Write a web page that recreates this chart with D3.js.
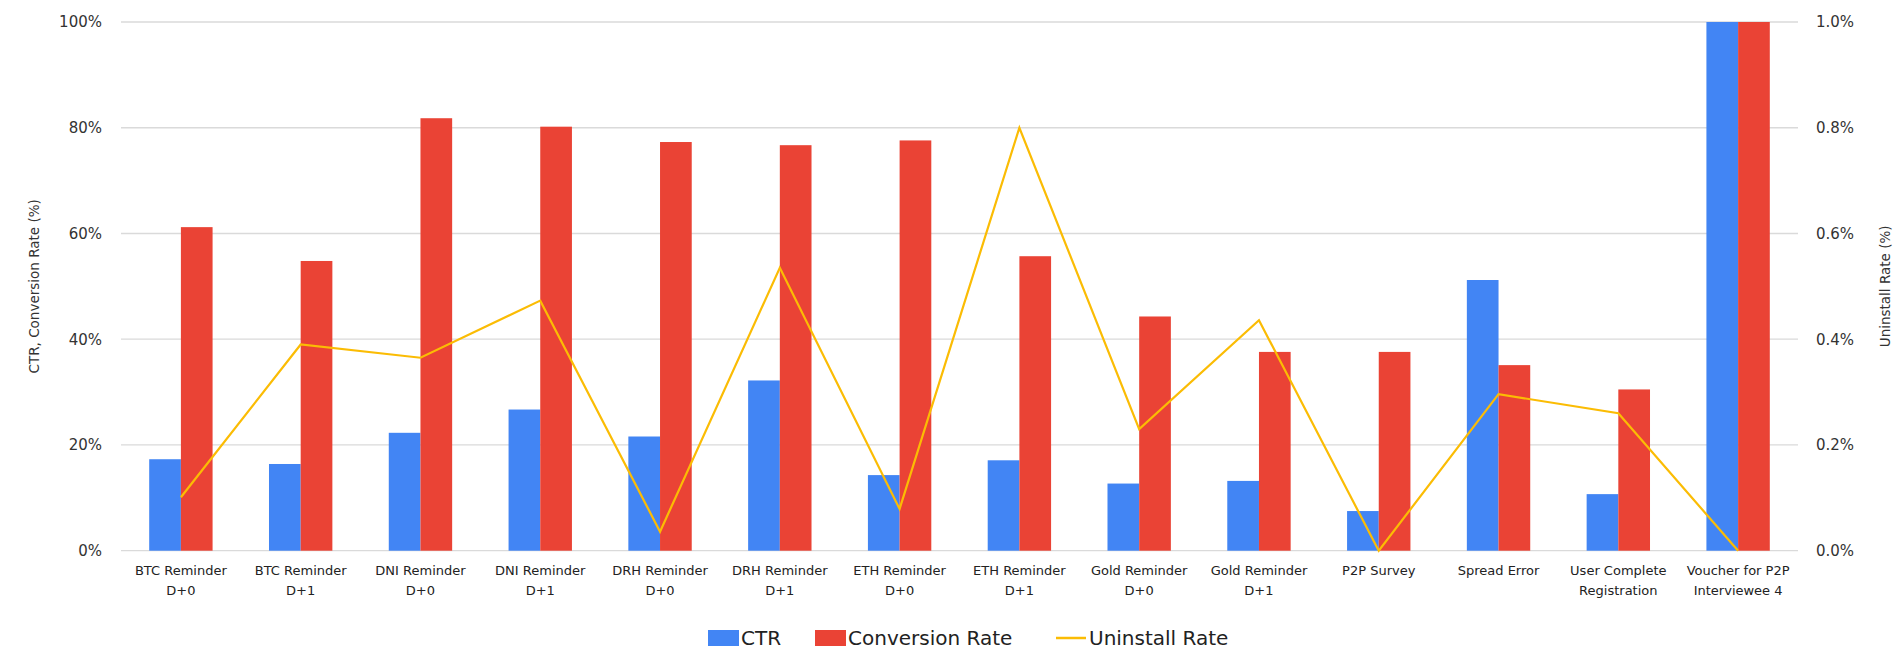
<!DOCTYPE html>
<html>
<head>
<meta charset="utf-8">
<script src="https://cdn.jsdelivr.net/npm/d3@7"></script>
<style>
  html, body { margin: 0; padding: 0; background: #fff; }
  svg { display: block; font-family: "DejaVu Sans", Verdana, sans-serif; }
</style>
</head>
<body>
<svg id="chart" width="1895" height="650"></svg>
<script>
// Campaign names (two-line labels split on "\n")
const categories = [
  "BTC Reminder\nD+0", "BTC Reminder\nD+1",
  "DNI Reminder\nD+0", "DNI Reminder\nD+1",
  "DRH Reminder\nD+0", "DRH Reminder\nD+1",
  "ETH Reminder\nD+0", "ETH Reminder\nD+1",
  "Gold Reminder\nD+0", "Gold Reminder\nD+1",
  "P2P Survey", "Spread Error",
  "User Complete\nRegistration", "Voucher for P2P\nInterviewee 4"
];

// Left axis series (fractions)
const ctr = [0.173, 0.164, 0.223, 0.267, 0.216, 0.322, 0.143, 0.171, 0.127, 0.132, 0.075, 0.512, 0.107, 1.0];
const conversionRate = [0.612, 0.548, 0.818, 0.802, 0.773, 0.767, 0.776, 0.557, 0.443, 0.376, 0.376, 0.351, 0.305, 1.0];

// Right axis series (fractions)
const uninstallRate = [0.00101, 0.0039, 0.00365, 0.00473, 0.00036, 0.00535, 0.00079, 0.0080, 0.0023, 0.00436, 0.0, 0.00296, 0.0026, 0.0];

const leftTicks = [0, 0.2, 0.4, 0.6, 0.8, 1.0];
const rightTicks = [0, 0.002, 0.004, 0.006, 0.008, 0.010];

const barSeries = ["CTR", "Conversion Rate"];
const colors = { "CTR": "#4285f4", "Conversion Rate": "#ea4335", "Uninstall Rate": "#fbbc04" };

const svg = d3.select("#chart");
const plot = { left: 121, right: 1798, top: 22, bottom: 550.7 };

const x0 = d3.scaleBand().domain(categories).range([plot.left, plot.right]).paddingInner(0).paddingOuter(0);
const x1 = d3.scaleBand().domain(barSeries).range([0, x0.bandwidth()]).paddingInner(0).paddingOuter(0.89);
const yL = d3.scaleLinear().domain([0, 1]).range([plot.bottom, plot.top]);
const yR = d3.scaleLinear().domain([0, 0.01]).range([plot.bottom, plot.top]);

// Gridlines
svg.append("g")
  .selectAll("line")
  .data(leftTicks)
  .join("line")
  .attr("x1", plot.left).attr("x2", plot.right)
  .attr("y1", d => yL(d)).attr("y2", d => yL(d))
  .attr("stroke", "#dadada").attr("stroke-width", 1.3);

// Left axis
const leftAxis = svg.append("g")
  .attr("transform", `translate(${plot.left - 19},0)`)
  .call(d3.axisLeft(yL).tickValues(leftTicks).tickFormat(d3.format(".0%")).tickSize(0).tickPadding(0));
leftAxis.select(".domain").remove();
leftAxis.selectAll("text").attr("font-size", 15).attr("fill", "#333").attr("font-family", "DejaVu Sans");

// Right axis
const rightAxis = svg.append("g")
  .attr("transform", `translate(${plot.right + 18},0)`)
  .call(d3.axisRight(yR).tickValues(rightTicks).tickFormat(d3.format(".1%")).tickSize(0).tickPadding(0));
rightAxis.select(".domain").remove();
rightAxis.selectAll("text").attr("font-size", 15).attr("fill", "#333").attr("font-family", "DejaVu Sans");

// Bars
const rows = categories.map((c, i) => ({ cat: c, values: [
  { key: "CTR", v: ctr[i] },
  { key: "Conversion Rate", v: conversionRate[i] }
]}));

svg.append("g")
  .selectAll("g")
  .data(rows)
  .join("g")
  .attr("transform", d => `translate(${x0(d.cat)},0)`)
  .selectAll("rect")
  .data(d => d.values)
  .join("rect")
  .attr("x", d => x1(d.key))
  .attr("width", x1.bandwidth())
  .attr("y", d => yL(d.v))
  .attr("height", d => yL(0) - yL(d.v))
  .attr("fill", d => colors[d.key]);

// Uninstall rate line
const line = d3.line()
  .x((d, i) => x0(categories[i]) + x0.bandwidth() / 2)
  .y(d => yR(d));
svg.append("path")
  .datum(uninstallRate)
  .attr("d", line)
  .attr("fill", "none")
  .attr("stroke", colors["Uninstall Rate"])
  .attr("stroke-width", 2.2)
  .attr("stroke-linejoin", "miter");

// Category labels
const xLabels = svg.append("g").attr("font-size", 13).attr("fill", "#222").attr("text-anchor", "middle");
categories.forEach(c => {
  const t = xLabels.append("text")
    .attr("x", x0(c) + x0.bandwidth() / 2)
    .attr("y", 575);
  c.split("\n").forEach((part, j) => {
    t.append("tspan")
      .attr("x", x0(c) + x0.bandwidth() / 2)
      .attr("dy", j === 0 ? 0 : 19.5)
      .text(part);
  });
});

// Axis titles
svg.append("text")
  .attr("transform", `translate(39,${(plot.top + plot.bottom) / 2}) rotate(-90)`)
  .attr("text-anchor", "middle")
  .attr("font-size", 13.5)
  .attr("fill", "#333")
  .text("CTR, Conversion Rate (%)");

svg.append("text")
  .attr("transform", `translate(1890,${(plot.top + plot.bottom) / 2}) rotate(-90)`)
  .attr("text-anchor", "middle")
  .attr("font-size", 13.5)
  .attr("fill", "#333")
  .text("Uninstall Rate (%)");

// Legend
const legendItems = [
  { key: "CTR", type: "rect", x: 708 },
  { key: "Conversion Rate", type: "rect", x: 815 },
  { key: "Uninstall Rate", type: "line", x: 1056 }
];
const ly = 638;
const legend = svg.append("g");
legendItems.forEach(it => {
  if (it.type === "rect") {
    legend.append("rect")
      .attr("x", it.x).attr("y", ly - 8)
      .attr("width", 31).attr("height", 16)
      .attr("fill", colors[it.key]);
  } else {
    legend.append("line")
      .attr("x1", it.x).attr("x2", it.x + 30)
      .attr("y1", ly).attr("y2", ly)
      .attr("stroke", colors[it.key]).attr("stroke-width", 2.5);
  }
  legend.append("text")
    .attr("x", it.x + 33)
    .attr("y", ly)
    .attr("dy", "0.36em")
    .attr("font-size", 20)
    .attr("fill", "#222")
    .text(it.key);
});
</script>
</body>
</html>
